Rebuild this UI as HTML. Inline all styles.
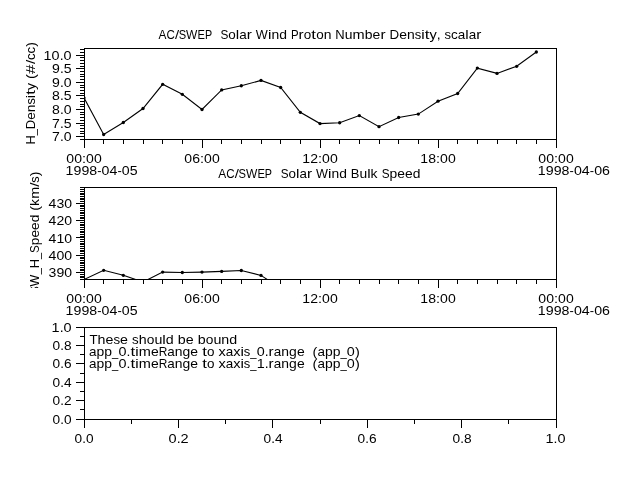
<!DOCTYPE html><html><head><meta charset="utf-8"><style>html,body{margin:0;padding:0;background:#fff;}svg{display:block;filter:grayscale(1);}</style></head><body>
<svg width="640" height="480" viewBox="0 0 640 480">
<defs><clipPath id="c1"><rect x="84" y="48" width="473" height="92"/></clipPath><clipPath id="c2"><rect x="84" y="187" width="473" height="93"/></clipPath><clipPath id="clipyl2"><rect x="0" y="150" width="80" height="138"/></clipPath></defs>
<rect x="0" y="0" width="640" height="480" fill="#fff"/>
<g fill="#000"><rect x="84" y="48" width="473" height="1"/>
<rect x="84" y="139" width="473" height="1"/>
<rect x="84" y="48" width="1" height="92"/>
<rect x="556" y="48" width="1" height="92"/>
<rect x="84" y="187" width="473" height="1"/>
<rect x="84" y="279" width="473" height="1"/>
<rect x="84" y="187" width="1" height="93"/>
<rect x="556" y="187" width="1" height="93"/>
<rect x="84" y="327" width="473" height="1"/>
<rect x="84" y="419" width="473" height="1"/>
<rect x="84" y="327" width="1" height="93"/>
<rect x="556" y="327" width="1" height="93"/>
<rect x="84" y="140" width="1" height="8"/>
<rect x="103" y="140" width="1" height="4"/>
<rect x="123" y="140" width="1" height="4"/>
<rect x="143" y="140" width="1" height="4"/>
<rect x="162" y="140" width="1" height="4"/>
<rect x="182" y="140" width="1" height="4"/>
<rect x="202" y="140" width="1" height="8"/>
<rect x="221" y="140" width="1" height="4"/>
<rect x="241" y="140" width="1" height="4"/>
<rect x="261" y="140" width="1" height="4"/>
<rect x="280" y="140" width="1" height="4"/>
<rect x="300" y="140" width="1" height="4"/>
<rect x="320" y="140" width="1" height="8"/>
<rect x="339" y="140" width="1" height="4"/>
<rect x="359" y="140" width="1" height="4"/>
<rect x="379" y="140" width="1" height="4"/>
<rect x="398" y="140" width="1" height="4"/>
<rect x="418" y="140" width="1" height="4"/>
<rect x="438" y="140" width="1" height="8"/>
<rect x="457" y="140" width="1" height="4"/>
<rect x="477" y="140" width="1" height="4"/>
<rect x="497" y="140" width="1" height="4"/>
<rect x="516" y="140" width="1" height="4"/>
<rect x="536" y="140" width="1" height="4"/>
<rect x="556" y="140" width="1" height="8"/>
<rect x="84" y="280" width="1" height="8"/>
<rect x="103" y="280" width="1" height="4"/>
<rect x="123" y="280" width="1" height="4"/>
<rect x="143" y="280" width="1" height="4"/>
<rect x="162" y="280" width="1" height="4"/>
<rect x="182" y="280" width="1" height="4"/>
<rect x="202" y="280" width="1" height="8"/>
<rect x="221" y="280" width="1" height="4"/>
<rect x="241" y="280" width="1" height="4"/>
<rect x="261" y="280" width="1" height="4"/>
<rect x="280" y="280" width="1" height="4"/>
<rect x="300" y="280" width="1" height="4"/>
<rect x="320" y="280" width="1" height="8"/>
<rect x="339" y="280" width="1" height="4"/>
<rect x="359" y="280" width="1" height="4"/>
<rect x="379" y="280" width="1" height="4"/>
<rect x="398" y="280" width="1" height="4"/>
<rect x="418" y="280" width="1" height="4"/>
<rect x="438" y="280" width="1" height="8"/>
<rect x="457" y="280" width="1" height="4"/>
<rect x="477" y="280" width="1" height="4"/>
<rect x="497" y="280" width="1" height="4"/>
<rect x="516" y="280" width="1" height="4"/>
<rect x="536" y="280" width="1" height="4"/>
<rect x="556" y="280" width="1" height="8"/>
<rect x="84" y="420" width="1" height="8"/>
<rect x="131" y="420" width="1" height="4"/>
<rect x="178" y="420" width="1" height="8"/>
<rect x="225" y="420" width="1" height="4"/>
<rect x="272" y="420" width="1" height="8"/>
<rect x="320" y="420" width="1" height="4"/>
<rect x="367" y="420" width="1" height="8"/>
<rect x="414" y="420" width="1" height="4"/>
<rect x="461" y="420" width="1" height="8"/>
<rect x="508" y="420" width="1" height="4"/>
<rect x="556" y="420" width="1" height="8"/>
<rect x="80" y="49" width="4" height="1"/>
<rect x="80" y="52" width="4" height="1"/>
<rect x="76" y="55" width="8" height="1"/>
<rect x="80" y="57" width="4" height="1"/>
<rect x="80" y="60" width="4" height="1"/>
<rect x="80" y="63" width="4" height="1"/>
<rect x="80" y="66" width="4" height="1"/>
<rect x="76" y="68" width="8" height="1"/>
<rect x="80" y="71" width="4" height="1"/>
<rect x="80" y="74" width="4" height="1"/>
<rect x="80" y="76" width="4" height="1"/>
<rect x="80" y="79" width="4" height="1"/>
<rect x="76" y="82" width="8" height="1"/>
<rect x="80" y="85" width="4" height="1"/>
<rect x="80" y="87" width="4" height="1"/>
<rect x="80" y="90" width="4" height="1"/>
<rect x="80" y="93" width="4" height="1"/>
<rect x="76" y="95" width="8" height="1"/>
<rect x="80" y="98" width="4" height="1"/>
<rect x="80" y="101" width="4" height="1"/>
<rect x="80" y="104" width="4" height="1"/>
<rect x="80" y="106" width="4" height="1"/>
<rect x="76" y="109" width="8" height="1"/>
<rect x="80" y="112" width="4" height="1"/>
<rect x="80" y="114" width="4" height="1"/>
<rect x="80" y="117" width="4" height="1"/>
<rect x="80" y="120" width="4" height="1"/>
<rect x="76" y="123" width="8" height="1"/>
<rect x="80" y="125" width="4" height="1"/>
<rect x="80" y="128" width="4" height="1"/>
<rect x="80" y="131" width="4" height="1"/>
<rect x="80" y="133" width="4" height="1"/>
<rect x="76" y="136" width="8" height="1"/>
<rect x="80" y="139" width="4" height="1"/>
<rect x="80" y="187" width="4" height="1"/>
<rect x="80" y="189" width="4" height="1"/>
<rect x="80" y="191" width="4" height="1"/>
<rect x="80" y="193" width="4" height="1"/>
<rect x="80" y="194" width="4" height="1"/>
<rect x="80" y="196" width="4" height="1"/>
<rect x="80" y="198" width="4" height="1"/>
<rect x="80" y="199" width="4" height="1"/>
<rect x="80" y="201" width="4" height="1"/>
<rect x="76" y="203" width="8" height="1"/>
<rect x="80" y="205" width="4" height="1"/>
<rect x="80" y="206" width="4" height="1"/>
<rect x="80" y="208" width="4" height="1"/>
<rect x="80" y="210" width="4" height="1"/>
<rect x="80" y="212" width="4" height="1"/>
<rect x="80" y="213" width="4" height="1"/>
<rect x="80" y="215" width="4" height="1"/>
<rect x="80" y="217" width="4" height="1"/>
<rect x="80" y="218" width="4" height="1"/>
<rect x="76" y="220" width="8" height="1"/>
<rect x="80" y="222" width="4" height="1"/>
<rect x="80" y="224" width="4" height="1"/>
<rect x="80" y="225" width="4" height="1"/>
<rect x="80" y="227" width="4" height="1"/>
<rect x="80" y="229" width="4" height="1"/>
<rect x="80" y="231" width="4" height="1"/>
<rect x="80" y="232" width="4" height="1"/>
<rect x="80" y="234" width="4" height="1"/>
<rect x="80" y="236" width="4" height="1"/>
<rect x="76" y="237" width="8" height="1"/>
<rect x="80" y="239" width="4" height="1"/>
<rect x="80" y="241" width="4" height="1"/>
<rect x="80" y="243" width="4" height="1"/>
<rect x="80" y="244" width="4" height="1"/>
<rect x="80" y="246" width="4" height="1"/>
<rect x="80" y="248" width="4" height="1"/>
<rect x="80" y="250" width="4" height="1"/>
<rect x="80" y="251" width="4" height="1"/>
<rect x="80" y="253" width="4" height="1"/>
<rect x="76" y="255" width="8" height="1"/>
<rect x="80" y="257" width="4" height="1"/>
<rect x="80" y="258" width="4" height="1"/>
<rect x="80" y="260" width="4" height="1"/>
<rect x="80" y="262" width="4" height="1"/>
<rect x="80" y="263" width="4" height="1"/>
<rect x="80" y="265" width="4" height="1"/>
<rect x="80" y="267" width="4" height="1"/>
<rect x="80" y="269" width="4" height="1"/>
<rect x="80" y="270" width="4" height="1"/>
<rect x="76" y="272" width="8" height="1"/>
<rect x="80" y="274" width="4" height="1"/>
<rect x="80" y="276" width="4" height="1"/>
<rect x="80" y="277" width="4" height="1"/>
<rect x="80" y="279" width="4" height="1"/>
<rect x="76" y="327" width="8" height="1"/>
<rect x="80" y="336" width="4" height="1"/>
<rect x="76" y="345" width="8" height="1"/>
<rect x="80" y="354" width="4" height="1"/>
<rect x="76" y="363" width="8" height="1"/>
<rect x="80" y="373" width="4" height="1"/>
<rect x="76" y="382" width="8" height="1"/>
<rect x="80" y="391" width="4" height="1"/>
<rect x="76" y="400" width="8" height="1"/>
<rect x="80" y="409" width="4" height="1"/>
<rect x="76" y="419" width="8" height="1"/></g>
<g fill="#000"><g clip-path="url(#c1)"><polyline points="84.00,97.80 103.67,134.50 123.33,122.50 143.00,108.50 162.67,84.30 182.33,94.30 202.00,109.50 221.67,89.90 241.33,85.75 261.00,80.45 280.67,87.50 300.33,112.30 320.00,123.60 339.67,122.75 359.33,115.60 379.00,126.70 398.67,117.50 418.33,114.10 438.00,101.20 457.67,93.50 477.33,68.10 497.00,73.40 516.67,66.30 536.33,52.00" fill="none" stroke="#000" stroke-width="1.1"/>
<circle cx="84.00" cy="97.80" r="1.65"/>
<circle cx="103.67" cy="134.50" r="1.65"/>
<circle cx="123.33" cy="122.50" r="1.65"/>
<circle cx="143.00" cy="108.50" r="1.65"/>
<circle cx="162.67" cy="84.30" r="1.65"/>
<circle cx="182.33" cy="94.30" r="1.65"/>
<circle cx="202.00" cy="109.50" r="1.65"/>
<circle cx="221.67" cy="89.90" r="1.65"/>
<circle cx="241.33" cy="85.75" r="1.65"/>
<circle cx="261.00" cy="80.45" r="1.65"/>
<circle cx="280.67" cy="87.50" r="1.65"/>
<circle cx="300.33" cy="112.30" r="1.65"/>
<circle cx="320.00" cy="123.60" r="1.65"/>
<circle cx="339.67" cy="122.75" r="1.65"/>
<circle cx="359.33" cy="115.60" r="1.65"/>
<circle cx="379.00" cy="126.70" r="1.65"/>
<circle cx="398.67" cy="117.50" r="1.65"/>
<circle cx="418.33" cy="114.10" r="1.65"/>
<circle cx="438.00" cy="101.20" r="1.65"/>
<circle cx="457.67" cy="93.50" r="1.65"/>
<circle cx="477.33" cy="68.10" r="1.65"/>
<circle cx="497.00" cy="73.40" r="1.65"/>
<circle cx="516.67" cy="66.30" r="1.65"/>
<circle cx="536.33" cy="52.00" r="1.65"/>
</g>
<g clip-path="url(#c2)"><polyline points="84.00,279.50 103.67,270.30 123.33,275.30 143.00,282.00 162.67,272.10 182.33,272.50 202.00,272.10 221.67,271.40 241.33,270.50 261.00,275.40 280.67,288.20" fill="none" stroke="#000" stroke-width="1.1"/>
<circle cx="84.00" cy="279.50" r="1.65"/>
<circle cx="103.67" cy="270.30" r="1.65"/>
<circle cx="123.33" cy="275.30" r="1.65"/>
<circle cx="143.00" cy="282.00" r="1.65"/>
<circle cx="162.67" cy="272.10" r="1.65"/>
<circle cx="182.33" cy="272.50" r="1.65"/>
<circle cx="202.00" cy="272.10" r="1.65"/>
<circle cx="221.67" cy="271.40" r="1.65"/>
<circle cx="241.33" cy="270.50" r="1.65"/>
<circle cx="261.00" cy="275.40" r="1.65"/>
<circle cx="280.67" cy="288.20" r="1.65"/>
</g></g>
<g font-family='"Liberation Sans", sans-serif' font-size="12.5" fill="#000">
<text transform="translate(162.42,38.90) scale(0.949,1)" text-anchor="middle">A</text><text transform="translate(170.72,38.90) scale(0.924,1)" text-anchor="middle">C</text><text transform="translate(176.95,38.90) scale(1.187,1)" text-anchor="middle">/</text><text transform="translate(182.45,38.90) scale(0.889,1)" text-anchor="middle">S</text><text transform="translate(191.75,38.90) scale(0.958,1)" text-anchor="middle">W</text><text transform="translate(201.28,38.90) scale(0.889,1)" text-anchor="middle">E</text><text transform="translate(208.49,38.90) scale(0.859,1)" text-anchor="middle">P</text>
<text transform="translate(224.40,38.90) scale(0.945,1)" text-anchor="middle">S</text><text transform="translate(232.07,38.90) scale(1.077,1)" text-anchor="middle">o</text><text transform="translate(237.53,38.90) scale(1.229,1)" text-anchor="middle">l</text><text transform="translate(242.99,38.90) scale(1.077,1)" text-anchor="middle">a</text><text transform="translate(249.36,38.90) scale(1.223,1)" text-anchor="middle">r</text><text transform="translate(261.84,38.90) scale(1.018,1)" text-anchor="middle">W</text><text transform="translate(269.76,38.90) scale(1.229,1)" text-anchor="middle">i</text><text transform="translate(275.35,38.90) scale(1.114,1)" text-anchor="middle">n</text><text transform="translate(283.15,38.90) scale(1.114,1)" text-anchor="middle">d</text><text transform="translate(294.72,38.90) scale(0.914,1)" text-anchor="middle">P</text><text transform="translate(301.09,38.90) scale(1.223,1)" text-anchor="middle">r</text><text transform="translate(307.45,38.90) scale(1.077,1)" text-anchor="middle">o</text><text transform="translate(313.69,38.90) scale(1.350,1)" text-anchor="middle">t</text><text transform="translate(319.93,38.90) scale(1.077,1)" text-anchor="middle">o</text><text transform="translate(327.60,38.90) scale(1.114,1)" text-anchor="middle">n</text><text transform="translate(340.07,38.90) scale(1.040,1)" text-anchor="middle">N</text><text transform="translate(348.65,38.90) scale(1.114,1)" text-anchor="middle">u</text><text transform="translate(358.66,38.90) scale(1.164,1)" text-anchor="middle">m</text><text transform="translate(368.67,38.90) scale(1.114,1)" text-anchor="middle">b</text><text transform="translate(376.47,38.90) scale(1.114,1)" text-anchor="middle">e</text><text transform="translate(382.97,38.90) scale(1.223,1)" text-anchor="middle">r</text><text transform="translate(394.28,38.90) scale(1.069,1)" text-anchor="middle">D</text><text transform="translate(402.99,38.90) scale(1.114,1)" text-anchor="middle">e</text><text transform="translate(410.79,38.90) scale(1.114,1)" text-anchor="middle">n</text><text transform="translate(417.93,38.90) scale(1.040,1)" text-anchor="middle">s</text><text transform="translate(422.87,38.90) scale(1.229,1)" text-anchor="middle">i</text><text transform="translate(427.03,38.90) scale(1.350,1)" text-anchor="middle">t</text><text transform="translate(433.14,38.90) scale(1.165,1)" text-anchor="middle">y</text><text transform="translate(438.73,38.90) scale(1.114,1)" text-anchor="middle">,</text><text transform="translate(447.83,38.90) scale(1.040,1)" text-anchor="middle">s</text><text transform="translate(454.46,38.90) scale(1.081,1)" text-anchor="middle">c</text><text transform="translate(461.61,38.90) scale(1.077,1)" text-anchor="middle">a</text><text transform="translate(467.07,38.90) scale(1.229,1)" text-anchor="middle">l</text><text transform="translate(472.53,38.90) scale(1.077,1)" text-anchor="middle">a</text><text transform="translate(478.90,38.90) scale(1.223,1)" text-anchor="middle">r</text>
<text transform="translate(222.18,177.80) scale(0.953,1)" text-anchor="middle">A</text><text transform="translate(230.53,177.80) scale(0.928,1)" text-anchor="middle">C</text><text transform="translate(236.79,177.80) scale(1.193,1)" text-anchor="middle">/</text><text transform="translate(242.31,177.80) scale(0.893,1)" text-anchor="middle">S</text><text transform="translate(251.64,177.80) scale(0.962,1)" text-anchor="middle">W</text><text transform="translate(261.22,177.80) scale(0.893,1)" text-anchor="middle">E</text><text transform="translate(268.46,177.80) scale(0.863,1)" text-anchor="middle">P</text>
<text transform="translate(284.63,177.80) scale(0.941,1)" text-anchor="middle">S</text><text transform="translate(292.27,177.80) scale(1.072,1)" text-anchor="middle">o</text><text transform="translate(297.70,177.80) scale(1.224,1)" text-anchor="middle">l</text><text transform="translate(303.14,177.80) scale(1.072,1)" text-anchor="middle">a</text><text transform="translate(309.48,177.80) scale(1.218,1)" text-anchor="middle">r</text><text transform="translate(321.91,177.80) scale(1.014,1)" text-anchor="middle">W</text><text transform="translate(329.80,177.80) scale(1.224,1)" text-anchor="middle">i</text><text transform="translate(335.36,177.80) scale(1.109,1)" text-anchor="middle">n</text><text transform="translate(343.13,177.80) scale(1.109,1)" text-anchor="middle">d</text><text transform="translate(355.17,177.80) scale(1.035,1)" text-anchor="middle">B</text><text transform="translate(363.32,177.80) scale(1.109,1)" text-anchor="middle">u</text><text transform="translate(368.89,177.80) scale(1.224,1)" text-anchor="middle">l</text><text transform="translate(374.05,177.80) scale(1.115,1)" text-anchor="middle">k</text><text transform="translate(385.58,177.80) scale(0.941,1)" text-anchor="middle">S</text><text transform="translate(393.35,177.80) scale(1.109,1)" text-anchor="middle">p</text><text transform="translate(401.11,177.80) scale(1.109,1)" text-anchor="middle">e</text><text transform="translate(408.88,177.80) scale(1.109,1)" text-anchor="middle">e</text><text transform="translate(416.64,177.80) scale(1.109,1)" text-anchor="middle">d</text>
<text transform="translate(47.53,59.90) scale(1.152,1)" text-anchor="middle">1</text><text transform="translate(55.60,59.90) scale(1.152,1)" text-anchor="middle">0</text><text transform="translate(61.58,59.90) scale(1.115,1)" text-anchor="middle">.</text><text transform="translate(67.56,59.90) scale(1.152,1)" text-anchor="middle">0</text>
<text transform="translate(55.94,72.90) scale(1.127,1)" text-anchor="middle">9</text><text transform="translate(61.80,72.90) scale(1.091,1)" text-anchor="middle">.</text><text transform="translate(67.65,72.90) scale(1.127,1)" text-anchor="middle">5</text>
<text transform="translate(55.94,86.90) scale(1.127,1)" text-anchor="middle">9</text><text transform="translate(61.80,86.90) scale(1.091,1)" text-anchor="middle">.</text><text transform="translate(67.65,86.90) scale(1.127,1)" text-anchor="middle">0</text>
<text transform="translate(55.94,99.90) scale(1.127,1)" text-anchor="middle">8</text><text transform="translate(61.80,99.90) scale(1.091,1)" text-anchor="middle">.</text><text transform="translate(67.65,99.90) scale(1.127,1)" text-anchor="middle">5</text>
<text transform="translate(55.94,113.90) scale(1.127,1)" text-anchor="middle">8</text><text transform="translate(61.80,113.90) scale(1.091,1)" text-anchor="middle">.</text><text transform="translate(67.65,113.90) scale(1.127,1)" text-anchor="middle">0</text>
<text transform="translate(55.94,127.90) scale(1.127,1)" text-anchor="middle">7</text><text transform="translate(61.80,127.90) scale(1.091,1)" text-anchor="middle">.</text><text transform="translate(67.65,127.90) scale(1.127,1)" text-anchor="middle">5</text>
<text transform="translate(55.94,140.90) scale(1.127,1)" text-anchor="middle">7</text><text transform="translate(61.80,140.90) scale(1.091,1)" text-anchor="middle">.</text><text transform="translate(67.65,140.90) scale(1.127,1)" text-anchor="middle">0</text>
<text transform="translate(52.44,207.85) scale(1.125,1)" text-anchor="middle">4</text><text transform="translate(60.31,207.85) scale(1.125,1)" text-anchor="middle">3</text><text transform="translate(68.19,207.85) scale(1.125,1)" text-anchor="middle">0</text>
<text transform="translate(52.44,224.85) scale(1.125,1)" text-anchor="middle">4</text><text transform="translate(60.31,224.85) scale(1.125,1)" text-anchor="middle">2</text><text transform="translate(68.19,224.85) scale(1.125,1)" text-anchor="middle">0</text>
<text transform="translate(52.44,242.85) scale(1.125,1)" text-anchor="middle">4</text><text transform="translate(60.31,242.85) scale(1.125,1)" text-anchor="middle">1</text><text transform="translate(68.19,242.85) scale(1.125,1)" text-anchor="middle">0</text>
<text transform="translate(52.44,259.85) scale(1.125,1)" text-anchor="middle">4</text><text transform="translate(60.31,259.85) scale(1.125,1)" text-anchor="middle">0</text><text transform="translate(68.19,259.85) scale(1.125,1)" text-anchor="middle">0</text>
<text transform="translate(52.44,276.85) scale(1.125,1)" text-anchor="middle">3</text><text transform="translate(60.31,276.85) scale(1.125,1)" text-anchor="middle">9</text><text transform="translate(68.19,276.85) scale(1.125,1)" text-anchor="middle">0</text>
<text transform="translate(55.56,331.90) scale(1.159,1)" text-anchor="middle">1</text><text transform="translate(61.58,331.90) scale(1.122,1)" text-anchor="middle">.</text><text transform="translate(67.60,331.90) scale(1.159,1)" text-anchor="middle">0</text>
<text transform="translate(56.33,349.90) scale(1.095,1)" text-anchor="middle">0</text><text transform="translate(62.02,349.90) scale(1.059,1)" text-anchor="middle">.</text><text transform="translate(67.70,349.90) scale(1.095,1)" text-anchor="middle">8</text>
<text transform="translate(56.33,367.90) scale(1.095,1)" text-anchor="middle">0</text><text transform="translate(62.02,367.90) scale(1.059,1)" text-anchor="middle">.</text><text transform="translate(67.70,367.90) scale(1.095,1)" text-anchor="middle">6</text>
<text transform="translate(56.33,386.90) scale(1.095,1)" text-anchor="middle">0</text><text transform="translate(62.02,386.90) scale(1.059,1)" text-anchor="middle">.</text><text transform="translate(67.70,386.90) scale(1.095,1)" text-anchor="middle">4</text>
<text transform="translate(56.33,404.90) scale(1.095,1)" text-anchor="middle">0</text><text transform="translate(62.02,404.90) scale(1.059,1)" text-anchor="middle">.</text><text transform="translate(67.70,404.90) scale(1.095,1)" text-anchor="middle">2</text>
<text transform="translate(56.33,423.90) scale(1.095,1)" text-anchor="middle">0</text><text transform="translate(62.02,423.90) scale(1.059,1)" text-anchor="middle">.</text><text transform="translate(67.70,423.90) scale(1.095,1)" text-anchor="middle">0</text>
<text transform="translate(70.18,162.60) scale(1.124,1)" text-anchor="middle">0</text><text transform="translate(78.05,162.60) scale(1.124,1)" text-anchor="middle">0</text><text transform="translate(84.01,162.60) scale(1.160,1)" text-anchor="middle">:</text><text transform="translate(89.98,162.60) scale(1.124,1)" text-anchor="middle">0</text><text transform="translate(97.84,162.60) scale(1.124,1)" text-anchor="middle">0</text>
<text transform="translate(188.18,162.60) scale(1.124,1)" text-anchor="middle">0</text><text transform="translate(196.05,162.60) scale(1.124,1)" text-anchor="middle">6</text><text transform="translate(202.01,162.60) scale(1.160,1)" text-anchor="middle">:</text><text transform="translate(207.98,162.60) scale(1.124,1)" text-anchor="middle">0</text><text transform="translate(215.84,162.60) scale(1.124,1)" text-anchor="middle">0</text>
<text transform="translate(306.19,162.60) scale(1.125,1)" text-anchor="middle">1</text><text transform="translate(314.06,162.60) scale(1.125,1)" text-anchor="middle">2</text><text transform="translate(320.03,162.60) scale(1.161,1)" text-anchor="middle">:</text><text transform="translate(326.00,162.60) scale(1.125,1)" text-anchor="middle">0</text><text transform="translate(333.87,162.60) scale(1.125,1)" text-anchor="middle">0</text>
<text transform="translate(424.19,162.60) scale(1.125,1)" text-anchor="middle">1</text><text transform="translate(432.06,162.60) scale(1.125,1)" text-anchor="middle">8</text><text transform="translate(438.03,162.60) scale(1.161,1)" text-anchor="middle">:</text><text transform="translate(444.00,162.60) scale(1.125,1)" text-anchor="middle">0</text><text transform="translate(451.87,162.60) scale(1.125,1)" text-anchor="middle">0</text>
<text transform="translate(542.18,162.60) scale(1.124,1)" text-anchor="middle">0</text><text transform="translate(550.05,162.60) scale(1.124,1)" text-anchor="middle">0</text><text transform="translate(556.01,162.60) scale(1.160,1)" text-anchor="middle">:</text><text transform="translate(561.98,162.60) scale(1.124,1)" text-anchor="middle">0</text><text transform="translate(569.84,162.60) scale(1.124,1)" text-anchor="middle">0</text>
<text transform="translate(69.46,175.00) scale(1.132,1)" text-anchor="middle">1</text><text transform="translate(77.38,175.00) scale(1.132,1)" text-anchor="middle">9</text><text transform="translate(85.30,175.00) scale(1.132,1)" text-anchor="middle">9</text><text transform="translate(93.22,175.00) scale(1.132,1)" text-anchor="middle">8</text><text transform="translate(99.36,175.00) scale(1.022,1)" text-anchor="middle">-</text><text transform="translate(105.49,175.00) scale(1.132,1)" text-anchor="middle">0</text><text transform="translate(113.41,175.00) scale(1.132,1)" text-anchor="middle">4</text><text transform="translate(119.54,175.00) scale(1.022,1)" text-anchor="middle">-</text><text transform="translate(125.68,175.00) scale(1.132,1)" text-anchor="middle">0</text><text transform="translate(133.60,175.00) scale(1.132,1)" text-anchor="middle">5</text>
<text transform="translate(541.72,175.00) scale(1.135,1)" text-anchor="middle">1</text><text transform="translate(549.67,175.00) scale(1.135,1)" text-anchor="middle">9</text><text transform="translate(557.62,175.00) scale(1.135,1)" text-anchor="middle">9</text><text transform="translate(565.56,175.00) scale(1.135,1)" text-anchor="middle">8</text><text transform="translate(571.72,175.00) scale(1.025,1)" text-anchor="middle">-</text><text transform="translate(577.87,175.00) scale(1.135,1)" text-anchor="middle">0</text><text transform="translate(585.82,175.00) scale(1.135,1)" text-anchor="middle">4</text><text transform="translate(591.97,175.00) scale(1.025,1)" text-anchor="middle">-</text><text transform="translate(598.12,175.00) scale(1.135,1)" text-anchor="middle">0</text><text transform="translate(606.07,175.00) scale(1.135,1)" text-anchor="middle">6</text>
<text transform="translate(70.18,302.60) scale(1.124,1)" text-anchor="middle">0</text><text transform="translate(78.05,302.60) scale(1.124,1)" text-anchor="middle">0</text><text transform="translate(84.01,302.60) scale(1.160,1)" text-anchor="middle">:</text><text transform="translate(89.98,302.60) scale(1.124,1)" text-anchor="middle">0</text><text transform="translate(97.84,302.60) scale(1.124,1)" text-anchor="middle">0</text>
<text transform="translate(188.18,302.60) scale(1.124,1)" text-anchor="middle">0</text><text transform="translate(196.05,302.60) scale(1.124,1)" text-anchor="middle">6</text><text transform="translate(202.01,302.60) scale(1.160,1)" text-anchor="middle">:</text><text transform="translate(207.98,302.60) scale(1.124,1)" text-anchor="middle">0</text><text transform="translate(215.84,302.60) scale(1.124,1)" text-anchor="middle">0</text>
<text transform="translate(306.19,302.60) scale(1.125,1)" text-anchor="middle">1</text><text transform="translate(314.06,302.60) scale(1.125,1)" text-anchor="middle">2</text><text transform="translate(320.03,302.60) scale(1.161,1)" text-anchor="middle">:</text><text transform="translate(326.00,302.60) scale(1.125,1)" text-anchor="middle">0</text><text transform="translate(333.87,302.60) scale(1.125,1)" text-anchor="middle">0</text>
<text transform="translate(424.19,302.60) scale(1.125,1)" text-anchor="middle">1</text><text transform="translate(432.06,302.60) scale(1.125,1)" text-anchor="middle">8</text><text transform="translate(438.03,302.60) scale(1.161,1)" text-anchor="middle">:</text><text transform="translate(444.00,302.60) scale(1.125,1)" text-anchor="middle">0</text><text transform="translate(451.87,302.60) scale(1.125,1)" text-anchor="middle">0</text>
<text transform="translate(542.18,302.60) scale(1.124,1)" text-anchor="middle">0</text><text transform="translate(550.05,302.60) scale(1.124,1)" text-anchor="middle">0</text><text transform="translate(556.01,302.60) scale(1.160,1)" text-anchor="middle">:</text><text transform="translate(561.98,302.60) scale(1.124,1)" text-anchor="middle">0</text><text transform="translate(569.84,302.60) scale(1.124,1)" text-anchor="middle">0</text>
<text transform="translate(69.46,315.00) scale(1.132,1)" text-anchor="middle">1</text><text transform="translate(77.38,315.00) scale(1.132,1)" text-anchor="middle">9</text><text transform="translate(85.30,315.00) scale(1.132,1)" text-anchor="middle">9</text><text transform="translate(93.22,315.00) scale(1.132,1)" text-anchor="middle">8</text><text transform="translate(99.36,315.00) scale(1.022,1)" text-anchor="middle">-</text><text transform="translate(105.49,315.00) scale(1.132,1)" text-anchor="middle">0</text><text transform="translate(113.41,315.00) scale(1.132,1)" text-anchor="middle">4</text><text transform="translate(119.54,315.00) scale(1.022,1)" text-anchor="middle">-</text><text transform="translate(125.68,315.00) scale(1.132,1)" text-anchor="middle">0</text><text transform="translate(133.60,315.00) scale(1.132,1)" text-anchor="middle">5</text>
<text transform="translate(541.72,315.00) scale(1.135,1)" text-anchor="middle">1</text><text transform="translate(549.67,315.00) scale(1.135,1)" text-anchor="middle">9</text><text transform="translate(557.62,315.00) scale(1.135,1)" text-anchor="middle">9</text><text transform="translate(565.56,315.00) scale(1.135,1)" text-anchor="middle">8</text><text transform="translate(571.72,315.00) scale(1.025,1)" text-anchor="middle">-</text><text transform="translate(577.87,315.00) scale(1.135,1)" text-anchor="middle">0</text><text transform="translate(585.82,315.00) scale(1.135,1)" text-anchor="middle">4</text><text transform="translate(591.97,315.00) scale(1.025,1)" text-anchor="middle">-</text><text transform="translate(598.12,315.00) scale(1.135,1)" text-anchor="middle">0</text><text transform="translate(606.07,315.00) scale(1.135,1)" text-anchor="middle">6</text>
<text transform="translate(78.33,442.90) scale(1.094,1)" text-anchor="middle">0</text><text transform="translate(84.01,442.90) scale(1.059,1)" text-anchor="middle">.</text><text transform="translate(89.69,442.90) scale(1.094,1)" text-anchor="middle">0</text>
<text transform="translate(172.57,442.90) scale(1.162,1)" text-anchor="middle">0</text><text transform="translate(178.60,442.90) scale(1.125,1)" text-anchor="middle">.</text><text transform="translate(184.64,442.90) scale(1.162,1)" text-anchor="middle">2</text>
<text transform="translate(267.34,442.90) scale(1.097,1)" text-anchor="middle">0</text><text transform="translate(273.04,442.90) scale(1.062,1)" text-anchor="middle">.</text><text transform="translate(278.74,442.90) scale(1.097,1)" text-anchor="middle">4</text>
<text transform="translate(361.34,442.90) scale(1.097,1)" text-anchor="middle">0</text><text transform="translate(367.04,442.90) scale(1.062,1)" text-anchor="middle">.</text><text transform="translate(372.74,442.90) scale(1.097,1)" text-anchor="middle">6</text>
<text transform="translate(456.34,442.90) scale(1.097,1)" text-anchor="middle">0</text><text transform="translate(462.04,442.90) scale(1.062,1)" text-anchor="middle">.</text><text transform="translate(467.74,442.90) scale(1.097,1)" text-anchor="middle">8</text>
<text transform="translate(549.55,442.90) scale(1.158,1)" text-anchor="middle">1</text><text transform="translate(555.57,442.90) scale(1.121,1)" text-anchor="middle">.</text><text transform="translate(561.59,442.90) scale(1.158,1)" text-anchor="middle">0</text>
<text transform="translate(93.62,343.70) scale(1.063,1)" text-anchor="middle">T</text><text transform="translate(101.46,343.70) scale(1.139,1)" text-anchor="middle">h</text><text transform="translate(109.43,343.70) scale(1.139,1)" text-anchor="middle">e</text><text transform="translate(116.74,343.70) scale(1.063,1)" text-anchor="middle">s</text><text transform="translate(124.05,343.70) scale(1.139,1)" text-anchor="middle">e</text><text transform="translate(135.35,343.70) scale(1.063,1)" text-anchor="middle">s</text><text transform="translate(142.66,343.70) scale(1.139,1)" text-anchor="middle">h</text><text transform="translate(150.50,343.70) scale(1.101,1)" text-anchor="middle">o</text><text transform="translate(158.34,343.70) scale(1.139,1)" text-anchor="middle">u</text><text transform="translate(164.05,343.70) scale(1.256,1)" text-anchor="middle">l</text><text transform="translate(169.76,343.70) scale(1.139,1)" text-anchor="middle">d</text><text transform="translate(181.72,343.70) scale(1.139,1)" text-anchor="middle">b</text><text transform="translate(189.70,343.70) scale(1.139,1)" text-anchor="middle">e</text><text transform="translate(201.66,343.70) scale(1.139,1)" text-anchor="middle">b</text><text transform="translate(209.50,343.70) scale(1.101,1)" text-anchor="middle">o</text><text transform="translate(217.34,343.70) scale(1.139,1)" text-anchor="middle">u</text><text transform="translate(225.31,343.70) scale(1.139,1)" text-anchor="middle">n</text><text transform="translate(233.28,343.70) scale(1.139,1)" text-anchor="middle">d</text>
<text transform="translate(92.77,355.70) scale(1.077,1)" text-anchor="middle">a</text><text transform="translate(100.43,355.70) scale(1.114,1)" text-anchor="middle">p</text><text transform="translate(108.23,355.70) scale(1.114,1)" text-anchor="middle">p</text><text transform="translate(115.24,355.70) scale(0.901,1)" text-anchor="middle">_</text><text transform="translate(122.39,355.70) scale(1.151,1)" text-anchor="middle">0</text><text transform="translate(128.37,355.70) scale(1.114,1)" text-anchor="middle">.</text><text transform="translate(132.78,355.70) scale(1.350,1)" text-anchor="middle">t</text><text transform="translate(136.94,355.70) scale(1.228,1)" text-anchor="middle">i</text><text transform="translate(144.74,355.70) scale(1.163,1)" text-anchor="middle">m</text><text transform="translate(154.74,355.70) scale(1.114,1)" text-anchor="middle">e</text><text transform="translate(162.93,355.70) scale(0.953,1)" text-anchor="middle">R</text><text transform="translate(170.98,355.70) scale(1.077,1)" text-anchor="middle">a</text><text transform="translate(178.64,355.70) scale(1.114,1)" text-anchor="middle">n</text><text transform="translate(186.44,355.70) scale(1.114,1)" text-anchor="middle">g</text><text transform="translate(194.23,355.70) scale(1.114,1)" text-anchor="middle">e</text><text transform="translate(204.50,355.70) scale(1.350,1)" text-anchor="middle">t</text><text transform="translate(210.73,355.70) scale(1.077,1)" text-anchor="middle">o</text><text transform="translate(222.04,355.70) scale(1.164,1)" text-anchor="middle">x</text><text transform="translate(229.44,355.70) scale(1.077,1)" text-anchor="middle">a</text><text transform="translate(236.85,355.70) scale(1.164,1)" text-anchor="middle">x</text><text transform="translate(242.18,355.70) scale(1.228,1)" text-anchor="middle">i</text><text transform="translate(247.11,355.70) scale(1.039,1)" text-anchor="middle">s</text><text transform="translate(253.48,355.70) scale(0.901,1)" text-anchor="middle">_</text><text transform="translate(260.63,355.70) scale(1.151,1)" text-anchor="middle">0</text><text transform="translate(266.60,355.70) scale(1.114,1)" text-anchor="middle">.</text><text transform="translate(271.15,355.70) scale(1.223,1)" text-anchor="middle">r</text><text transform="translate(277.52,355.70) scale(1.077,1)" text-anchor="middle">a</text><text transform="translate(285.18,355.70) scale(1.114,1)" text-anchor="middle">n</text><text transform="translate(292.98,355.70) scale(1.114,1)" text-anchor="middle">g</text><text transform="translate(300.77,355.70) scale(1.114,1)" text-anchor="middle">e</text><text transform="translate(314.93,355.70) scale(1.162,1)" text-anchor="middle">(</text><text transform="translate(321.17,355.70) scale(1.077,1)" text-anchor="middle">a</text><text transform="translate(328.84,355.70) scale(1.114,1)" text-anchor="middle">p</text><text transform="translate(336.63,355.70) scale(1.114,1)" text-anchor="middle">p</text><text transform="translate(343.65,355.70) scale(0.901,1)" text-anchor="middle">_</text><text transform="translate(350.79,355.70) scale(1.151,1)" text-anchor="middle">0</text><text transform="translate(357.29,355.70) scale(1.162,1)" text-anchor="middle">)</text>
<text transform="translate(92.77,367.90) scale(1.077,1)" text-anchor="middle">a</text><text transform="translate(100.43,367.90) scale(1.114,1)" text-anchor="middle">p</text><text transform="translate(108.23,367.90) scale(1.114,1)" text-anchor="middle">p</text><text transform="translate(115.24,367.90) scale(0.901,1)" text-anchor="middle">_</text><text transform="translate(122.39,367.90) scale(1.151,1)" text-anchor="middle">0</text><text transform="translate(128.37,367.90) scale(1.114,1)" text-anchor="middle">.</text><text transform="translate(132.78,367.90) scale(1.350,1)" text-anchor="middle">t</text><text transform="translate(136.94,367.90) scale(1.228,1)" text-anchor="middle">i</text><text transform="translate(144.74,367.90) scale(1.163,1)" text-anchor="middle">m</text><text transform="translate(154.74,367.90) scale(1.114,1)" text-anchor="middle">e</text><text transform="translate(162.93,367.90) scale(0.953,1)" text-anchor="middle">R</text><text transform="translate(170.98,367.90) scale(1.077,1)" text-anchor="middle">a</text><text transform="translate(178.64,367.90) scale(1.114,1)" text-anchor="middle">n</text><text transform="translate(186.44,367.90) scale(1.114,1)" text-anchor="middle">g</text><text transform="translate(194.23,367.90) scale(1.114,1)" text-anchor="middle">e</text><text transform="translate(204.50,367.90) scale(1.350,1)" text-anchor="middle">t</text><text transform="translate(210.73,367.90) scale(1.077,1)" text-anchor="middle">o</text><text transform="translate(222.04,367.90) scale(1.164,1)" text-anchor="middle">x</text><text transform="translate(229.44,367.90) scale(1.077,1)" text-anchor="middle">a</text><text transform="translate(236.85,367.90) scale(1.164,1)" text-anchor="middle">x</text><text transform="translate(242.18,367.90) scale(1.228,1)" text-anchor="middle">i</text><text transform="translate(247.11,367.90) scale(1.039,1)" text-anchor="middle">s</text><text transform="translate(253.48,367.90) scale(0.901,1)" text-anchor="middle">_</text><text transform="translate(260.63,367.90) scale(1.151,1)" text-anchor="middle">1</text><text transform="translate(266.60,367.90) scale(1.114,1)" text-anchor="middle">.</text><text transform="translate(271.15,367.90) scale(1.223,1)" text-anchor="middle">r</text><text transform="translate(277.52,367.90) scale(1.077,1)" text-anchor="middle">a</text><text transform="translate(285.18,367.90) scale(1.114,1)" text-anchor="middle">n</text><text transform="translate(292.98,367.90) scale(1.114,1)" text-anchor="middle">g</text><text transform="translate(300.77,367.90) scale(1.114,1)" text-anchor="middle">e</text><text transform="translate(314.93,367.90) scale(1.162,1)" text-anchor="middle">(</text><text transform="translate(321.17,367.90) scale(1.077,1)" text-anchor="middle">a</text><text transform="translate(328.84,367.90) scale(1.114,1)" text-anchor="middle">p</text><text transform="translate(336.63,367.90) scale(1.114,1)" text-anchor="middle">p</text><text transform="translate(343.65,367.90) scale(0.901,1)" text-anchor="middle">_</text><text transform="translate(350.79,367.90) scale(1.151,1)" text-anchor="middle">0</text><text transform="translate(357.29,367.90) scale(1.162,1)" text-anchor="middle">)</text>
<g><g transform="translate(35.25,0) rotate(-90)"><text transform="translate(-139.92,0) scale(1.018,1)" text-anchor="middle">H</text><text transform="translate(-132.29,0) scale(0.882,1)" text-anchor="middle">_</text><text transform="translate(-124.53,0) scale(1.046,1)" text-anchor="middle">D</text><text transform="translate(-116.00,0) scale(1.090,1)" text-anchor="middle">e</text><text transform="translate(-108.37,0) scale(1.090,1)" text-anchor="middle">n</text><text transform="translate(-101.37,0) scale(1.018,1)" text-anchor="middle">s</text><text transform="translate(-96.54,0) scale(1.203,1)" text-anchor="middle">i</text><text transform="translate(-92.47,0) scale(1.350,1)" text-anchor="middle">t</text><text transform="translate(-86.49,0) scale(1.140,1)" text-anchor="middle">y</text><text transform="translate(-76.70,0) scale(1.137,1)" text-anchor="middle">(</text><text transform="translate(-69.19,0) scale(1.350,1)" text-anchor="middle">#</text><text transform="translate(-61.94,0) scale(1.236,1)" text-anchor="middle">/</text><text transform="translate(-56.72,0) scale(1.058,1)" text-anchor="middle">c</text><text transform="translate(-50.11,0) scale(1.058,1)" text-anchor="middle">c</text><text transform="translate(-44.38,0) scale(1.137,1)" text-anchor="middle">)</text></g></g>
<g clip-path="url(#clipyl2)"><g transform="translate(39.20,0) rotate(-90)"><text transform="translate(-290.17,0) scale(0.928,1)" text-anchor="middle">S</text><text transform="translate(-280.47,0) scale(1.000,1)" text-anchor="middle">W</text><text transform="translate(-271.28,0) scale(0.885,1)" text-anchor="middle">_</text><text transform="translate(-263.63,0) scale(1.021,1)" text-anchor="middle">H</text><text transform="translate(-255.97,0) scale(0.885,1)" text-anchor="middle">_</text><text transform="translate(-249.08,0) scale(0.928,1)" text-anchor="middle">S</text><text transform="translate(-241.42,0) scale(1.094,1)" text-anchor="middle">p</text><text transform="translate(-233.76,0) scale(1.094,1)" text-anchor="middle">e</text><text transform="translate(-226.11,0) scale(1.094,1)" text-anchor="middle">e</text><text transform="translate(-218.45,0) scale(1.094,1)" text-anchor="middle">d</text><text transform="translate(-208.37,0) scale(1.141,1)" text-anchor="middle">(</text><text transform="translate(-202.51,0) scale(1.100,1)" text-anchor="middle">k</text><text transform="translate(-192.80,0) scale(1.143,1)" text-anchor="middle">m</text><text transform="translate(-184.63,0) scale(1.240,1)" text-anchor="middle">/</text><text transform="translate(-179.52,0) scale(1.021,1)" text-anchor="middle">s</text><text transform="translate(-173.91,0) scale(1.141,1)" text-anchor="middle">)</text></g></g>
</g></svg></body></html>
